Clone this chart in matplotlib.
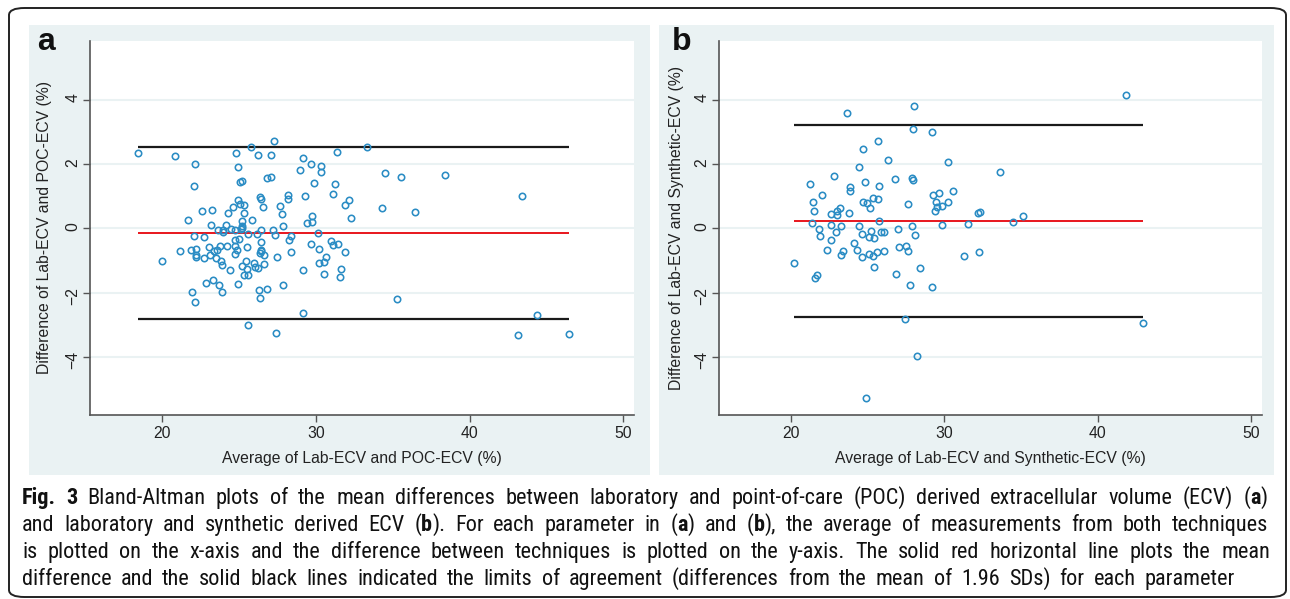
import matplotlib
matplotlib.use('Agg')
import matplotlib.pyplot as plt
from matplotlib.patches import Rectangle, FancyBboxPatch
from matplotlib import font_manager as fm

# panel a: Lab-ECV vs POC-ECV (average, difference)
avg_a = [18.44, 20.83, 22.15, 22.05, 21.70, 22.61, 23.26, 23.18, 22.10, 22.69,
         21.16, 21.88, 22.18, 22.23, 22.21, 19.97, 22.69, 23.04, 23.12, 23.53,
         23.55, 23.77, 23.85, 23.88, 24.20, 24.25, 23.63, 23.93, 23.93, 24.17,
         24.47, 24.71, 24.63, 24.95, 24.93, 24.82, 25.09, 25.20, 25.09, 25.33,
         25.33, 25.20, 25.17, 25.20, 25.00, 24.74, 24.74, 24.85, 24.71, 24.44,
         24.93, 22.85, 23.31, 23.71, 23.90, 21.97, 22.15, 25.20, 25.33, 25.60,
         25.52, 25.46, 25.49, 25.57, 25.79, 25.81, 25.98, 26.06, 26.25, 26.25,
         26.38, 26.41, 26.54, 26.19, 26.41, 26.46, 26.41, 26.46, 26.33, 26.60,
         26.60, 26.30, 26.38, 26.81, 26.81, 27.11, 27.11, 27.29, 27.24, 27.35,
         27.46, 27.43, 25.55, 27.67, 27.78, 27.89, 27.86, 28.16, 28.21, 28.26,
         28.40, 28.40, 28.99, 29.13, 29.31, 29.13, 29.13, 29.69, 29.88, 29.74,
         29.42, 29.74, 29.66, 30.12, 30.17, 30.23, 30.52, 30.63, 30.50, 30.34,
         30.36, 31.09, 31.22, 31.38, 30.96, 31.09, 31.44, 31.87, 32.14, 32.27,
         31.87, 31.63, 31.57, 33.30, 34.29, 34.48, 35.53, 35.29, 36.45, 38.41,
         43.42, 44.36, 43.12, 46.49, 23.35, 25.12]
diff_a = [2.35, 2.25, 2.00, 1.33, 0.25, 0.55, 0.57, 0.11, -0.24, -0.26,
          -0.69, -0.67, -0.63, -0.84, -0.88, -1.02, -0.93, -0.57, -0.83, -0.92,
          -0.67, -0.56, -1.01, -1.14, -0.54, 0.47, -0.04, -0.06, -0.12, 0.09,
          -0.01, -0.04, 0.67, 0.89, 1.92, 2.35, 1.43, 1.48, 0.75, 0.72,
          0.49, 0.23, 0.06, 0.01, -0.33, -0.35, -0.54, -0.67, -0.79, -1.30,
          -1.72, -1.70, -1.61, -1.76, -1.98, -1.99, -2.29, -1.17, -1.46, -1.45,
          -1.25, -1.00, -0.59, -0.17, 2.53, 0.25, -1.08, -1.19, -1.22, 2.27,
          0.96, 0.91, 0.67, -0.18, -0.04, -0.41, -0.67, -0.71, -0.77, -0.84,
          -1.11, -1.92, -2.17, -1.89, 1.56, 1.59, 2.28, 2.71, -0.04, -0.22,
          -0.90, -3.26, -2.99, 0.70, 0.43, 0.08, -1.76, 0.91, 1.05, -0.36,
          -0.24, -0.73, 1.82, 2.20, 0.99, -1.30, -2.63, 1.99, 1.42, 0.37,
          0.18, 0.21, -0.50, -0.16, -0.64, -1.07, -1.05, -0.90, -1.42, 1.95,
          1.76, 1.06, 1.37, 2.37, -0.38, -0.53, -0.50, 0.71, 0.89, 0.31,
          -0.75, -1.27, -1.50, 2.53, 0.63, 1.72, 1.58, -2.20, 0.51, 1.65,
          0.99, -2.70, -3.30, -3.28, -0.69, -0.01]
mean_a = -0.14
loa_a = [2.53, -2.81]

# panel b: Lab-ECV vs Synthetic-ECV
avg_b = [20.16, 21.26, 21.42, 21.47, 21.39, 21.55, 21.72, 21.80, 21.88, 22.04,
         22.31, 22.60, 22.63, 22.63, 22.79, 22.98, 23.00, 22.95, 23.22, 23.27,
         23.24, 23.38, 23.67, 23.81, 23.86, 23.78, 24.10, 24.32, 24.40, 24.42,
         24.61, 24.66, 24.69, 24.64, 24.80, 24.96, 25.07, 25.07, 25.15, 25.20,
         25.31, 25.36, 25.42, 25.42, 25.58, 25.66, 25.71, 25.66, 25.76, 25.84,
         26.03, 26.03, 26.30, 24.88, 26.78, 26.84, 27.00, 27.05, 27.40, 27.51,
         27.59, 27.59, 27.77, 27.86, 27.86, 27.96, 27.96, 28.04, 28.07, 28.18,
         28.42, 29.17, 29.20, 29.25, 29.38, 29.44, 29.49, 29.65, 29.84, 29.84,
         30.21, 30.21, 30.56, 31.26, 31.55, 32.17, 32.33, 32.28, 33.65, 34.48,
         35.12, 41.82, 42.95]
diff_b = [-1.09, 1.39, 0.81, 0.53, 0.18, -1.53, -1.46, -0.02, -0.24, 1.04,
          -0.67, 0.46, 0.11, -0.36, 1.63, 0.54, 0.42, -0.10, 0.63, 0.07,
          -0.83, -0.69, 3.58, 1.28, 1.16, 0.49, -0.45, -0.67, 1.92, 0.07,
          -0.19, 2.47, 0.81, -0.88, 1.45, 0.80, -0.26, -0.80, 0.63, -0.07,
          -0.87, 0.95, -0.31, -1.21, -0.74, 2.70, 1.31, 0.90, 0.22, -0.12,
          -0.12, -0.72, 2.11, -5.27, 1.52, -1.42, -0.02, -0.57, -2.81, -0.56,
          -0.69, 0.77, -1.76, 0.08, 1.55, 1.49, 3.10, 3.81, -0.20, -3.98,
          -1.24, -1.81, 2.98, 1.04, 0.54, 0.83, 0.67, 1.09, 0.70, 0.11,
          0.83, 2.07, 1.17, -0.85, 0.13, 0.47, 0.52, -0.74, 1.76, 0.20,
          0.39, 4.15, -2.93]
mean_b = 0.24
loa_b = [3.22, -2.75]

xticks = [20, 30, 40, 50]
yticks = [-4, -2, 0, 2, 4]
xlabels = ['Average of Lab-ECV and POC-ECV (%)', 'Average of Lab-ECV and Synthetic-ECV (%)']
ylabels = ['Difference of Lab-ECV and POC-ECV (%)', 'Difference of Lab-ECV and Synthetic-ECV (%)']
letters = ['a', 'b']

caption_lines = [
    "[Fig. 3] Bland-Altman plots of the mean differences between laboratory and point-of-care (POC) derived extracellular volume (ECV) ([a])",
    "and laboratory and synthetic derived ECV ([b]). For each parameter in ([a]) and ([b]), the average of measurements from both techniques",
    "is plotted on the x-axis and the difference between techniques is plotted on the y-axis. The solid red horizontal line plots the mean",
    "difference and the solid black lines indicated the limits of agreement (differences from the mean of 1.96 SDs) for each parameter",
]

W, H = 1290, 599
BG = '#eaf2f3'
DOT = '#2a8cc4'
AX = '#555555'

plt.rcParams['font.family'] = ['Liberation Sans', 'DejaVu Sans']

fig = plt.figure(figsize=(W / 100, H / 100), dpi=100)


def fx(x):
    return x / W


def fy(y):
    return 1 - y / H


# outer rounded frame
fig.patches.append(FancyBboxPatch((fx(9), fy(597)), fx(1277), (597 - 8) / H,
                                  boxstyle='round,pad=0,rounding_size=0.012',
                                  transform=fig.transFigure, fill=False,
                                  ec='#222222', lw=1.4, zorder=-2))

panels = [
    dict(bg=(29, 650), ax=(90, 634), ylab=45, avg=avg_a, diff=diff_a, mean=mean_a, loa=loa_a, letter_x=37),
    dict(bg=(659, 1274), ax=(719, 1262), ylab=676, avg=avg_b, diff=diff_b, mean=mean_b, loa=loa_b, letter_x=672),
]

for i, p in enumerate(panels):
    b0, b1 = p['bg']
    fig.patches.append(Rectangle((fx(b0), fy(475)), (b1 - b0) / W, 450 / H,
                                 transform=fig.transFigure, fc=BG, ec='none', zorder=-1))
    a0, a1 = p['ax']
    ax = fig.add_axes([fx(a0), fy(415), (a1 - a0) / W, 374 / H], zorder=1)
    ax.set_facecolor('white')
    ax.plot(p['avg'], p['diff'], ls='none', marker='o', ms=4.6, mfc='none',
            mec=DOT, mew=1.15, zorder=3)
    x0, x1 = min(p['avg']), max(p['avg'])
    ax.hlines(p['loa'], x0, x1, color='#1a1a1a', lw=1.6, zorder=2)
    ax.hlines(p['mean'], x0, x1, color='#e8161d', lw=1.4, zorder=2)

    ax.set_xlim(15.3, 50.7)
    ax.set_ylim(-5.8, 5.82)
    ax.set_xticks(xticks)
    ax.set_yticks(yticks)
    ax.grid(axis='y', color=BG, lw=1.5)
    ax.set_axisbelow(True)
    for s in ['top', 'right']:
        ax.spines[s].set_visible(False)
    for s in ['left', 'bottom']:
        ax.spines[s].set_color(AX)
        ax.spines[s].set_linewidth(1.2)
    ax.tick_params(direction='out', length=5, width=1, color=AX,
                   labelsize=11.3, labelcolor='#222222')
    ax.tick_params(axis='y', labelrotation=90, pad=2)
    ax.tick_params(axis='x', pad=3)
    ax.set_xlabel(xlabels[i], fontsize=11.3, color='#222222')
    ax.set_ylabel(ylabels[i], fontsize=11.3, color='#222222')
    ax.xaxis.set_label_coords(0.5, -0.115)
    ax.yaxis.set_label_coords((p['ylab'] - a0) / (a1 - a0), 0.5)
    ax.xaxis.label.set_va('center')
    ax.yaxis.label.set_va('center')

    fig.text(fx(p['letter_x']), fy(50), letters[i], fontsize=23, weight='bold',
             va='baseline', ha='left', color='#111111')

# caption font: prefer a condensed sans if one is installed
cap_font, cap_stretch, cap_size = 'Liberation Sans', 'normal', 14.5
names = {f.name for f in fm.fontManager.ttflist}
condensed = {f.name for f in fm.fontManager.ttflist
             if f.stretch in ('condensed', 'semi-condensed', 'extra-condensed')}
for name in ['Liberation Sans Narrow', 'Roboto Condensed', 'Open Sans Condensed',
             'Noto Sans Condensed', 'DejaVu Sans Condensed']:
    if name in names:
        cap_font, cap_size = name, 16
        break
else:
    for name in ['DejaVu Sans', 'Noto Sans', 'Roboto', 'Open Sans']:
        if name in condensed:
            cap_font, cap_stretch, cap_size = name, 'condensed', 15
            break

cap_left = 22
cap_base = [504, 531, 558, 585]
cap_right = [1268, 1268, 1270, 1235]

fig.canvas.draw()
rend = fig.canvas.get_renderer()


def parse(line):
    words, bold = [], False
    for raw in line.split(' '):
        segs, buf = [], ''
        for ch in raw:
            if ch in '[]':
                if buf:
                    segs.append((buf, bold))
                buf = ''
                bold = ch == '['
            else:
                buf += ch
        if buf:
            segs.append((buf, bold))
        words.append(segs)
    return words


def seg_text(x, y, s, bold):
    return fig.text(fx(x), fy(y), s, fontsize=cap_size, family=cap_font,
                    fontstretch=cap_stretch,
                    weight='bold' if bold else 'normal', color='#111111',
                    va='baseline', ha='left')


for line, base, right in zip(caption_lines, cap_base, cap_right):
    words = parse(line)
    widths = []
    for w in words:
        ws = []
        for s, b in w:
            t = seg_text(0, 0, s, b)
            ws.append(t.get_window_extent(rend).width)
            t.remove()
        widths.append(ws)
    total = sum(sum(ws) for ws in widths)
    gap = (right - cap_left - total) / (len(words) - 1)
    x = cap_left
    for w, ws in zip(words, widths):
        for (s, b), sw in zip(w, ws):
            seg_text(x, base, s, b)
            x += sw
        x += gap

fig.savefig('out.png', dpi=100)
